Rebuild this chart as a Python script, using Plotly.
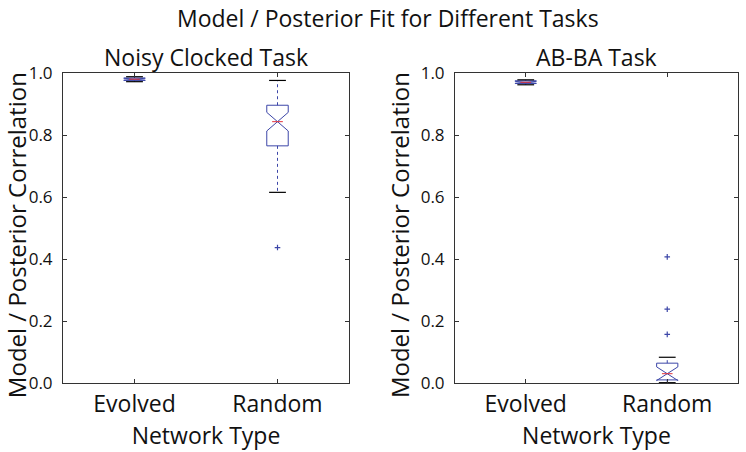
import numpy as np
import plotly.graph_objects as go
from plotly.subplots import make_subplots

# categories and panels
categorias = ['Evolved', 'Random']
paineis = ['Noisy Clocked Task', 'AB-BA Task']
titulo_y = 'Model / Posterior Correlation'

# box statistics, one list per panel (Evolved, Random)
q1_noisy = [0.976, 0.765]
mediana_noisy = [0.980, 0.843]
q3_noisy = [0.984, 0.896]
inferior_noisy = [0.972, 0.615]
superior_noisy = [0.988, 0.976]
entalhe_noisy = [0.003, 0.030]
outliers_noisy = [[], [0.437]]

q1_abba = [0.966, 0.010]
mediana_abba = [0.970, 0.030]
q3_abba = [0.975, 0.064]
inferior_abba = [0.962, 0.001]
superior_abba = [0.978, 0.083]
entalhe_abba = [0.003, 0.022]
outliers_abba = [[], [0.407, 0.238, 0.157]]

yticks = [0.0, 0.2, 0.4, 0.6, 0.8, 1.0]

AZUL = '#3c46a8'
VERMELHO = '#e2333c'
FONTE = 'Open Sans'
TEXTO = '#111111'
LARGURA = 0.15
NOTCH = 0.5

dados = [
    (q1_noisy, mediana_noisy, q3_noisy, inferior_noisy, superior_noisy, entalhe_noisy, outliers_noisy),
    (q1_abba, mediana_abba, q3_abba, inferior_abba, superior_abba, entalhe_abba, outliers_abba),
]

fig = make_subplots(rows=1, cols=2, horizontal_spacing=0.157)
pos = np.arange(len(categorias))

for c, (q1, med, q3, low, up, notch, outs) in enumerate(dados, start=1):
    fig.add_trace(go.Box(
        x=list(pos), q1=q1, median=med, q3=q3, lowerfence=q1, upperfence=q3,
        notched=True, notchspan=notch, notchwidth=NOTCH, width=LARGURA, whiskerwidth=0,
        line=dict(color=AZUL, width=1), fillcolor='rgba(0,0,0,0)', boxpoints=False,
        showlegend=False, hoverinfo='skip'
    ), row=1, col=c)
    for i, p in enumerate(pos):
        # dashed whiskers
        for a, b in [(q3[i], up[i]), (q1[i], low[i])]:
            fig.add_trace(go.Scatter(
                x=[p, p], y=[a, b], mode='lines',
                line=dict(color=AZUL, width=1, dash='3px,3px'), showlegend=False
            ), row=1, col=c)
        # black caps
        fig.add_trace(go.Scatter(
            x=[p, p], y=[low[i], up[i]], mode='markers',
            marker=dict(symbol='line-ew', size=12, line=dict(color='black', width=1.2)),
            showlegend=False
        ), row=1, col=c)
        # red median
        meia = LARGURA / 2 * (1 - NOTCH)
        fig.add_trace(go.Scatter(
            x=[p - meia, p + meia], y=[med[i], med[i]], mode='lines',
            line=dict(color=VERMELHO, width=1), showlegend=False
        ), row=1, col=c)
        if outs[i]:
            fig.add_trace(go.Scatter(
                x=[p] * len(outs[i]), y=outs[i], mode='markers',
                marker=dict(symbol='cross-thin', size=4, line=dict(color=AZUL, width=1.2)),
                showlegend=False
            ), row=1, col=c)

eixo = dict(showline=True, linecolor='#333333', linewidth=1, mirror='ticks',
            ticks='inside', ticklen=4, tickcolor='#333333', showgrid=False, zeroline=False,
            automargin=False)

for c in (1, 2):
    fig.update_xaxes(range=[-0.5, 1.5], tickvals=list(pos), ticktext=categorias,
                     tickfont=dict(size=23, color=TEXTO),
                     title=dict(text='Network Type', font=dict(size=23, color=TEXTO), standoff=0),
                     row=1, col=c, **eixo)
    fig.update_yaxes(range=[0, 1.0], tickvals=yticks, ticktext=[f'{v:.1f}' for v in yticks],
                     tickfont=dict(size=17, color=TEXTO), ticklabelstandoff=6,
                     row=1, col=c, **eixo)

dominios = [(0, 0.4237), (0.5807, 1)]
fig.update_xaxes(domain=dominios[0], row=1, col=1)
fig.update_xaxes(domain=dominios[1], row=1, col=2)

# y titles as rotated annotations so they sit clear of the tick labels
for dom, desloc in zip(dominios, [-47, -56]):
    fig.add_annotation(text=titulo_y, x=dom[0], y=0.477, xref='paper', yref='paper',
                       xanchor='center', yanchor='middle', xshift=desloc, textangle=-90,
                       showarrow=False, font=dict(size=24, color=TEXTO))

for dom, texto in zip(dominios, paineis):
    fig.add_annotation(text=texto, x=(dom[0] + dom[1]) / 2, y=1.0, xref='paper', yref='paper',
                       xanchor='center', yanchor='bottom', yshift=-2, showarrow=False,
                       font=dict(size=23, color=TEXTO))

fig.add_annotation(text='Model / Posterior Fit for Different Tasks',
                   x=(388 - 63) / 675, y=1 + (73 - 18) / 310,
                   xref='paper', yref='paper', xanchor='center', yanchor='middle',
                   showarrow=False, font=dict(size=23, color=TEXTO))

fig.update_layout(
    width=746, height=452,
    margin=dict(l=63, r=8, t=73, b=69),
    paper_bgcolor='white', plot_bgcolor='white',
    font=dict(family=FONTE, color=TEXTO),
)

# drop the browser's default 8px body margin so the figure fills the window
fig.write_html('out.html', config={'displayModeBar': False},
               post_script="document.body.style.margin='0';")
